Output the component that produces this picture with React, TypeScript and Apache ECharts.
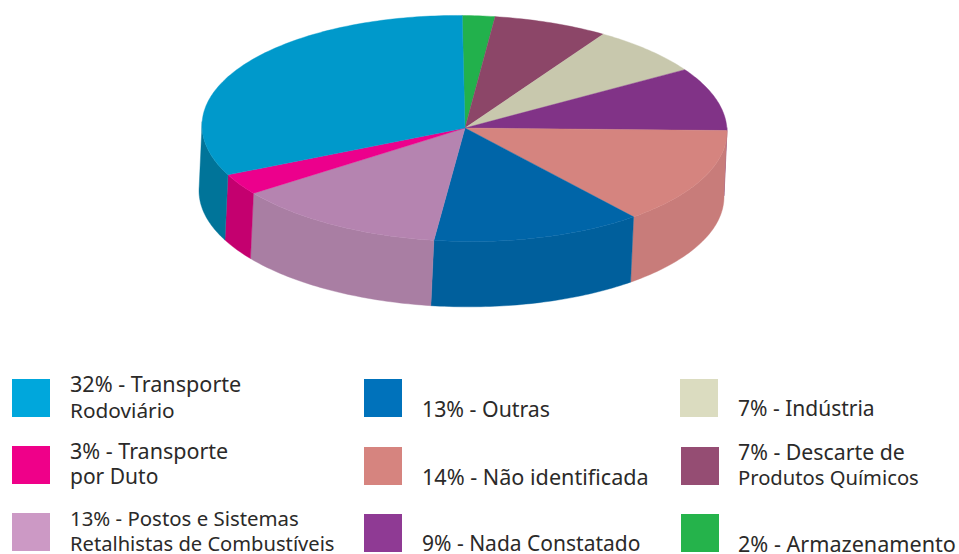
import React, { useEffect, useRef } from "react";
import * as echarts from "echarts";

// Slices clockwise from 12 o'clock
const sliceNames = ["Armazenamento", "Descarte de Produtos Químicos", "Indústria", "Nada Constatado", "Não identificada", "Outras", "Postos e Sistemas Retalhistas de Combustíveis", "Transporte por Duto", "Transporte Rodoviário"];
const sliceValues = [2, 7, 7, 9, 14, 13, 13, 3, 32];
const topColors = ["#22b14c", "#8c4668", "#c8c8ad", "#813387", "#d5847f", "#0065a8", "#b584b0", "#ec008c", "#0099cb"];
const sideColors = ["#1c9a42", "#7a3d5a", "#adad95", "#702c75", "#c87c7a", "#005f9c", "#a97ea3", "#c4006f", "#007499"];

// Legend (reading order: column by column)
const legendLabels = [
  ["32% - Transporte", "Rodoviário"],
  ["3% - Transporte", "por Duto"],
  ["13% - Postos e Sistemas", "Retalhistas de Combustíveis"],
  ["13% - Outras"],
  ["14% - Não identificada"],
  ["9% - Nada Constatado"],
  ["7% - Indústria"],
  ["7% - Descarte de", "Produtos Químicos"],
  ["2% - Armazenamento"],
];
const legendColors = ["#00a7dc", "#ef0089", "#cc99c5", "#0072bb", "#d6847f", "#8f3a94", "#dbdcc0", "#954d73", "#25b34b"];
const legendBoxX = [12, 12, 12, 364, 364, 364, 680, 681, 681];
const legendBoxY = [379, 446, 513, 379, 447, 514, 379, 447, 514];
const legendTextX = [70, 70, 70, 422, 422, 422, 738, 738, 738];
const legendBaselines = [[391, 417], [458, 483], [525, 550.5], [416], [484], [550.5], [415], [459, 484], [550.5]];
const legendFontSizes = [[21.6, 20.8], [21.5, 21], [20.4, 20.15], [21.3], [21.6], [21], [21], [21.3, 20.2], [21.6]];

const AX = 465, AY = 128; // apex of the pie
const CX = 464.5, CY = 128.5, RX = 262.5, RY = 113, TILT = 3, DX = -3, DY = 65.3;
const START = -0.5;
const BOX = 38;
const total = sliceValues.reduce((a, b) => a + b, 0);
const rad = (d: number) => (d * Math.PI) / 180;
const pt = (t: number): [number, number] => [
  CX + RX * Math.sin(rad(t)),
  CY - RY * Math.cos(rad(t)) + TILT * Math.sin(rad(t)),
];

function arc(a: number, b: number): [number, number][] {
  const n = Math.max(2, Math.ceil(Math.abs(b - a)));
  const out: [number, number][] = [];
  for (let i = 0; i <= n; i++) out.push(pt(a + ((b - a) * i) / n));
  return out;
}

function renderItem(params: any, api: any) {
  const i = params.dataIndex;
  let before = 0;
  for (let k = 0; k < i; k++) before += sliceValues[k];
  const a = START + (before / total) * 360;
  const b = START + ((before + api.value(0)) / total) * 360;
  const children: any[] = [];
  const wa = Math.max(a, 88), wb = Math.min(b, 272);
  if (wb > wa) {
    const upper = arc(wa, wb);
    const lower = upper.slice().reverse().map(([x, y]) => [x + DX, y + DY]);
    children.push({
      type: "polygon",
      z2: 1,
      shape: { points: [...upper, ...lower] },
      style: { fill: sideColors[i], stroke: sideColors[i], lineWidth: 0.4 },
    });
  }
  children.push({
    type: "polygon",
    z2: 2,
    shape: { points: [[AX, AY], ...arc(a, b)] },
    style: { fill: topColors[i], stroke: topColors[i], lineWidth: 0.4 },
  });
  return { type: "group", children };
}

export default function App() {
  const ref = useRef<HTMLDivElement>(null);
  useEffect(() => {
    const chart = echarts.init(ref.current!, undefined, { renderer: "svg" });
    const graphic: any[] = [];
    legendLabels.forEach((lines, i) => {
      graphic.push({
        type: "rect",
        shape: { x: legendBoxX[i], y: legendBoxY[i], width: BOX, height: BOX },
        style: { fill: legendColors[i] },
      });
      lines.forEach((text, j) => {
        graphic.push({
          type: "text",
          x: legendTextX[i],
          y: legendBaselines[i][j] - 7.5,
          style: {
            text,
            fill: "#2b2a29",
            font: `${legendFontSizes[i][j]}px "Noto Sans"`,
            lineHeight: 15,
            verticalAlign: "middle",
            align: "left",
          },
        });
      });
    });
    chart.setOption({
      animation: false,
      backgroundColor: "#ffffff",
      tooltip: { show: false },
      graphic,
      series: [
        {
          type: "custom",
          coordinateSystem: "none",
          silent: true,
          renderItem,
          data: sliceValues.map((value, i) => ({ name: sliceNames[i], value: [value] })),
        },
      ],
    });
    return () => chart.dispose();
  }, []);
  return <div ref={ref} style={{ position: "absolute", left: 0, top: 0, width: 959, height: 554 }} />;
}
